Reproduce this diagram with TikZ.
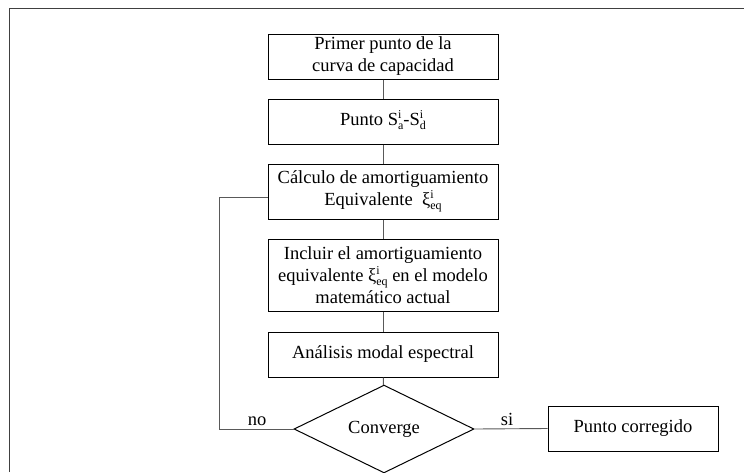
\documentclass[tikz,border=0pt]{standalone}
\usepackage{fontspec}
\setmainfont{Liberation Serif}
\usepackage{tikz}
\usetikzlibrary{shapes.geometric}
\newcommand{\txt}{\fontsize{18.5}{22}\selectfont}
\newcommand{\idx}[2]{\raisebox{-3.7pt}{\fontsize{12}{11}\selectfont\begin{tabular}[b]{@{}l@{}}#1\\#2\end{tabular}}}

\begin{document}
\begin{tikzpicture}[x=1pt, y=-1pt,
    bx/.style={draw, line width=1pt, inner sep=2pt, minimum width=230, align=center, font=\txt},
    dm/.style={draw, diamond, line width=1pt, inner sep=0pt, minimum width=180, minimum height=64, font=\txt},
    ln/.style={-, black!65, line width=0.9pt},
    lb/.style={anchor=base, font=\txt}
  ]
    \useasboundingbox (0,0) rectangle (744,472);
    % ---- frame ----
    \draw[black!75, line width=1.2pt] (9.5,472) -- (9.5,8.5) -- (744,8.5);
    % ---- main column ----
    \node[bx, minimum height=45] (b1) at (383,56.5) {Primer punto de la\\curva de capacidad};
    \node[bx, minimum height=45] (b2) at (383,121.5) {Punto S\idx{i}{a}-S\idx{i}{d}};
    \node[bx, minimum height=55] (b3) at (383,191.5) {Cálculo de amortiguamiento\\Equivalente \ ξ\idx{i}{eq}};
    \node[bx, minimum height=72] (b4) at (383,275) {Incluir el amortiguamiento\\equivalente ξ\idx{i}{eq} en el modelo\\matemático actual};
    \node[bx, minimum height=45] (b5) at (383,354.5) {Análisis modal espectral};
    \node[dm] (dc) at (384,429) {Converge};
    \node[bx, minimum width=170, minimum height=45] (pc) at (633,428.5) {Punto corregido};
    \foreach \a/\b in {b1/b2,b2/b3,b3/b4,b4/b5,b5/dc} \draw[ln] (\a) -- (\b);
    % ---- branches ----
    \coordinate (fb) at (219,197);
    \draw[ln] (dc.west) -| (fb) -- (b3.west |- fb);
    \draw[ln] (dc.east) -- (pc.west);
    \node[lb] (no) at (257,425) {no};
    \node[lb] (si) at (507,425) {si};
  \end{tikzpicture}
\end{document}
